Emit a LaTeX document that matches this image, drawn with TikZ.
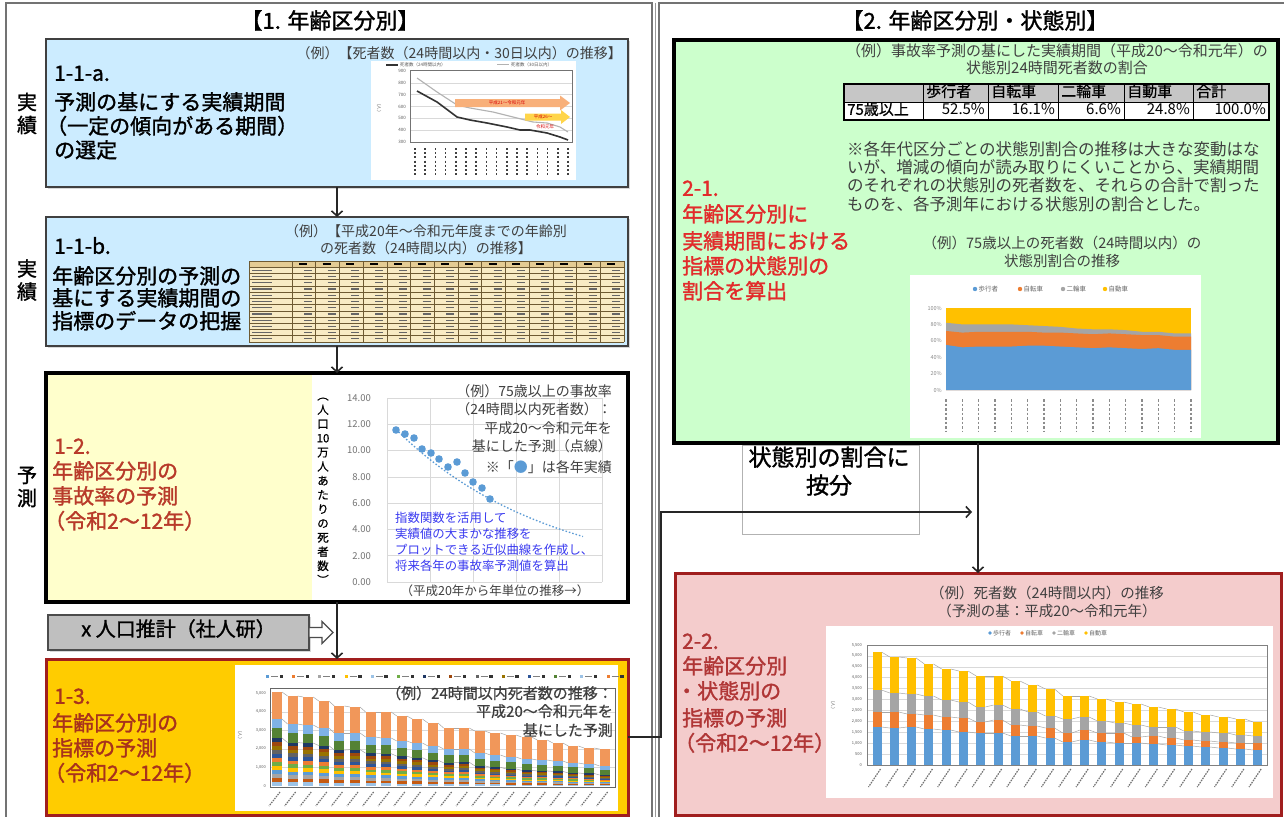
\documentclass[tikz,border=0pt]{standalone}
\usepackage{fontspec}
\setmainfont{Noto Sans CJK JP}
\newfontfamily\lblfont{Noto Sans CJK JP}[FakeBold=1.4]
\newfontfamily\medfont{Noto Sans CJK JP}[FakeBold=0.6]
\usetikzlibrary{arrows.meta,shadows}
\definecolor{lblue}{HTML}{CCECFF}
\definecolor{lyellow}{HTML}{FFFFCC}
\definecolor{gold}{HTML}{FFCC00}
\definecolor{lgreen}{HTML}{CCFFCC}
\definecolor{lpink}{HTML}{F4CCCC}
\definecolor{dred}{HTML}{A01E1E}
\definecolor{txtred}{HTML}{E22B2B}
\definecolor{brick}{HTML}{B83A2A}
\definecolor{brown2}{HTML}{A8321C}
\definecolor{pinkred}{HTML}{B03636}
\definecolor{capgray}{HTML}{3F3F3F}
\definecolor{ptblue}{HTML}{5B9BD5}
\definecolor{txtblue}{HTML}{3A3AF0}
\definecolor{corange}{HTML}{ED7D31}
\definecolor{cgray}{HTML}{A5A5A5}
\definecolor{cyellow}{HTML}{FFC000}
\definecolor{clblue}{HTML}{9DC3E6}
\definecolor{clblue2}{HTML}{7FB2E5}
\definecolor{cgreen}{HTML}{548235}
\definecolor{cgreen2}{HTML}{70AD47}
\definecolor{cnavy}{HTML}{1F3864}
\definecolor{cbrown}{HTML}{9E480E}
\definecolor{colive}{HTML}{997300}
\definecolor{cdgray}{HTML}{636363}
\definecolor{cblue2}{HTML}{2E5597}
\definecolor{cdorange}{HTML}{C55A11}
\definecolor{tabfill}{HTML}{F8EBC4}
\definecolor{tabhead}{HTML}{E4CC94}
\definecolor{tabline}{HTML}{6E5A32}
\definecolor{arrorange}{HTML}{F8B07A}
\definecolor{arryellow}{HTML}{FFD54A}
\begin{document}
\begin{tikzpicture}[x=1pt,y=-1pt,
  fs/.style={font=\fontsize{#1}{#1}\selectfont},
  bfs/.style={font=\lblfont\fontsize{#1}{#1}\selectfont},
  mfs/.style={font=\medfont\fontsize{#1}{#1}\selectfont},
  ln/.style={inner sep=0pt, text height=0.88em, text depth=0.12em},
  lbl/.style={ln, anchor=west, bfs=21},
  capt/.style={ln, fs=14, text=capgray},
  tinytxt/.style={inner sep=0pt, font=\fontsize{4.5}{5}\selectfont, text=black!65},
  boxbase/.style={rectangle, inner sep=0pt, outer sep=0pt},
  bluebox/.style={boxbase, fill=lblue, draw=black!75, line width=1.6pt, drop shadow={opacity=0.3, shadow xshift=2pt, shadow yshift=-2pt}},
  conn/.style={line width=1.6pt, draw=black!85},
  arr/.style={-{Straight Barb[length=5pt,width=11pt]}},
  vlab/.style={inner sep=0pt, align=center, font=\lblfont\fontsize{20}{23}\selectfont},
  gridln/.style={draw=black!15, line width=0.6pt},
  serie/.style={draw=black!35, line width=0.5pt},
]
\useasboundingbox (0,0) rectangle (1284,816);
\fill[white] (0,0) rectangle (1284,816);
% panel frames
\draw[black!55, line width=1.2pt] (6,830) -- (6,3) -- (652,3) -- (652,830);
\draw[black!40, line width=0.8pt] (655,3) -- (655,830);
\draw[black!55, line width=1.2pt] (659,830) -- (659,3) -- (1290,3);
\node[ln, bfs=22] (t1) at (330,25) {【1. 年齢区分別】};
\node[ln, bfs=22] (t2) at (975,25) {【2. 年齢区分別・状態別】};

% boxes
\node[bluebox, minimum width=582pt, minimum height=148pt] (b11a) at (337,113) {};
\node[bluebox, minimum width=582pt, minimum height=129pt] (b11b) at (337,281.5) {};
\node[boxbase, fill=lyellow, draw=black, line width=3.5pt, minimum width=582pt, minimum height=229pt] (b12) at (337,487.5) {};
\node[boxbase, fill=gray!50, draw=black!70, line width=1.5pt, minimum width=261pt, minimum height=35pt, drop shadow={opacity=0.3, shadow xshift=2pt, shadow yshift=-2pt}] (gbox) at (178.5,632.5) {};
\node[boxbase, fill=gold, draw=dred, line width=3pt, minimum width=582pt, minimum height=156pt] (b13) at (337,737) {};
\node[boxbase, fill=lgreen, draw=black, line width=3.5pt, minimum width=604pt, minimum height=403pt] (b21) at (976,241.5) {};
\node[boxbase, fill=lpink, draw=dred, line width=3pt, minimum width=606pt, minimum height=242pt] (b22) at (978,694) {};
\node[boxbase, draw=black!30, line width=0.8pt, fill=white, minimum width=177pt, minimum height=89pt] (lab) at (830.5,489.5) {};

% vertical side labels
\node[vlab] (v1) at (27,113.5) {実\\績};
\node[vlab] (v2) at (27,280) {実\\績};
\node[vlab] (v3) at (27,487) {予\\測};

% box labels
\foreach \s/\xx/\y [count=\i] in {1-1-a./54/77, 予測の基にする実績期間/54/106, （一定の傾向がある期間）/46/130, の選定/54/154}
  \node[lbl] (la\i) at (\xx,\y) {\s};
\foreach \s/\xx/\y [count=\i] in {1-1-b./54/250, 年齢区分別の予測の/52/280, 基にする実績期間の/52/302, 指標のデータの把握/52/325}
  \node[lbl] (lb\i) at (\xx,\y) {\s};
\foreach \s/\xx/\y [count=\i] in {1-2./54/450, 年齢区分別の/52/475, 事故率の予測/52/500, （令和2～12年）/44/525}
  \node[lbl, text=brick] (lc\i) at (\xx,\y) {\s};
\foreach \s/\xx/\y [count=\i] in {1-3./54/700, 年齢区分別の/52/727, 指標の予測/52/752, （令和2～12年）/44/777}
  \node[lbl, text=brown2] (ld\i) at (\xx,\y) {\s};
\foreach \s/\xx/\y [count=\i] in {2-1./682/192, 年齢区分別に/682/218, 実績期間における/682/245, 指標の状態別の/682/270, 割合を算出/682/295}
  \node[lbl, text=txtred] (le\i) at (\xx,\y) {\s};
\foreach \s/\xx/\y [count=\i] in {2-2./682/645, 年齢区分別/682/670, ・状態別の/676/695, 指標の予測/682/722, （令和2～12年）/674/747}
  \node[lbl, text=pinkred] (lf\i) at (\xx,\y) {\s};

% ---- chart 1-1-a
\node[capt, anchor=east] (c11a) at (622,55) {（例）【死者数（24時間以内・30日以内）の推移】};
\fill[white] (371,61) rectangle (576,180);
\foreach \y in {82.8,94.6,106.4,118.2,130} \draw[gridln] (410,\y) -- (572,\y);
\draw[black!55, line width=1pt] (410,70) rectangle (572,142);
\foreach \v [count=\i] in {900,800,700,600,500,400,300}
  \node[tinytxt, anchor=east] (ya\i) at (406,{71+(\i-1)*11.83}) {\v};
\node[tinytxt, rotate=-90] (yat) at (379,108) {（人）};
\draw[black!80, line width=1.2pt] (386,65) -- (398,65);
\node[tinytxt, anchor=west] (lg1) at (400,65) {死者数（24時間以内）};
\draw[black!30, line width=1pt] (497,65) -- (509,65);
\node[tinytxt, anchor=west] (lg2) at (511,65) {死者数（30日以内）};
\draw[black!30, line width=1.1pt] (417,78) -- (437,92) -- (457,105) -- (470,108) -- (493,112) -- (513,117) -- (533,122) -- (547,123) -- (560,127) -- (568,132);
\draw[black!80, line width=1.6pt] (417,91) -- (437,102) -- (457,117) -- (470,120) -- (487,123) -- (507,127) -- (520,130) -- (530,130) -- (547,133) -- (560,137) -- (568,140);
\fill[arrorange] (455,99) -- (560,99) -- (560,95.5) -- (570,103) -- (560,110.5) -- (560,107) -- (455,107) -- cycle;
\node[inner sep=0pt, font=\fontsize{4.5}{4.5}\selectfont, text=red!85!black] (ar1) at (507,103) {平成21～令和元年};
\fill[arryellow] (525,113.5) -- (561,113.5) -- (561,110) -- (570,117) -- (561,124) -- (561,120.5) -- (525,120.5) -- cycle;
\node[inner sep=0pt, font=\fontsize{4.5}{4.5}\selectfont, text=red!85!black] (ar2) at (543,117) {平成26～};
\node[inner sep=0pt, font=\fontsize{4.5}{4.5}\selectfont, text=red!85!black] (ar3) at (545,127) {令和元年};
\foreach \i in {0,...,15} \draw[black!75, line width=1.6pt, dash pattern=on 2pt off 2.2pt] ({415+\i*10.2},148) -- ({415+\i*10.2},176);

% ---- chart 1-1-b (table)
\node[capt] (c11b1) at (426,233) {（例）【平成20年～令和元年度までの年齢別};
\node[capt] (c11b2) at (426,250) {の死者数（24時間以内）の推移】};
\fill[tabfill] (249,261) rectangle (624,342);
\fill[tabhead] (249,261) rectangle (624,267.2);
\foreach \k in {0,...,13} \draw[tabline, line width=0.6pt] (249,{261+\k*6.23}) -- (624,{261+\k*6.23});
\draw[tabline, line width=0.6pt] (249,261) -- (249,342);
\foreach \k in {0,...,14} \draw[tabline, line width=0.6pt] ({292+\k*23.71},261) -- ({292+\k*23.71},342);
\foreach \c in {0,...,13} {
  \draw[black, line width=2pt] ({292+\c*23.71+7},264.1) -- ({292+\c*23.71+15},264.1);
  \foreach \r in {1,...,12}
    \draw[black!60, line width=1.2pt] ({292+\c*23.71+12},{261+\r*6.23+3.1}) -- ({292+\c*23.71+20},{261+\r*6.23+3.1});
}
\foreach \r in {1,...,12} \draw[black!60, line width=1.2pt] (252,{261+\r*6.23+3.1}) -- (272,{261+\r*6.23+3.1});

% ---- chart 1-2
\fill[white] (312,375) rectangle (626.2,600.2);
\foreach \k in {0,...,7} \draw[gridln] (387,{398+\k*26.29}) -- (602,{398+\k*26.29});
\foreach \k in {0,...,5} \draw[gridln] ({387+\k*43},398) -- ({387+\k*43},582);
\foreach \v [count=\i] in {14.00,12.00,10.00,8.00,6.00,4.00,2.00,0.00}
  \node[inner sep=0pt, anchor=east, font=\fontsize{9.5}{9.5}\selectfont, text=black!55] (yt\i) at (371,{398+(\i-1)*26.29}) {\v};
\node[inner sep=0pt, align=center, font=\medfont\fontsize{11.5}{14.2}\selectfont] (yl) at (323,491) {︵\\人\\口\\10\\万\\人\\あ\\た\\り\\の\\死\\者\\数\\︶};
\draw[ptblue, line width=1.3pt, dash pattern=on 1.5pt off 2pt] plot[domain=396:583, samples=40] (\x, {582-13.15*11.6*exp(-0.00647*(\x-396))});
\foreach \px/\py [count=\i] in {396/430, 405/434, 414/438, 422/449, 431/453, 439/459, 448/467, 457/462, 465/473, 473/482, 482/488, 490/499}
  \fill[ptblue] (\px,\py) circle[radius=3.8pt];
\foreach \s/\y [count=\i] in {（例）75歳以上の事故率/393, （24時間以内死者数）：/411, 平成20～令和元年を/430, 基にした予測（点線）/448, ※「{\color{ptblue}●}」は各年実績/469}
  \node[capt, anchor=east] (r12\i) at (612,\y) {\s};
\foreach \s/\y [count=\i] in {指数関数を活用して/519, 実績値の大まかな推移を/535, プロットできる近似曲線を作成し、/551, 将来各年の事故率予測値を算出/567}
  \node[ln, anchor=west, fs=12.4, text=txtblue] (bl\i) at (395,\y) {\s};
\node[ln, fs=12.5, text=capgray] (xl12) at (495,592) {（平成20年から年単位の推移→）};

% ---- chart 1-3
\fill[white] (235,665) rectangle (618,811);
\foreach \c [count=\i] in {ptblue,corange,cgray,cyellow,clblue,cgreen2,cnavy,cbrown,cdgray,colive,cblue2,cgreen,clblue,corange} {
  \pgfmathsetmacro\lx{266+(\i-1)*26.2}
  \fill[\c] (\lx,674.5) rectangle ({\lx+3},677.5);
  \draw[black!50, line width=1pt] ({\lx+5},676) -- ({\lx+12},676);
  \fill[black!80] ({\lx+13.5},674.5) rectangle ({\lx+17},677.5);
}
\foreach \y in {712,730,749,767} \draw[gridln] (270,\y) -- (615,\y);
\foreach \v [count=\i] in {{5,000},{4,000},{3,000},{2,000},{1,000},0}
  \node[tinytxt, anchor=east, font=\fontsize{4}{4}\selectfont] (yb\i) at (266,{693+(\i-1)*18.6}) {\v};
\node[tinytxt, rotate=-90] (ybt) at (240,735) {（人）};
\foreach \vt/\vo [count=\i] in {692/719,696/724,697/725,701/728,706/733,707/733,712/737,712/738,716/741,719/743,723/746,728/749,728/749,731/753,733/755,735/757,737/759,740/760,743/761,746/763,748/764,749/766}{
  \pgfmathsetmacro\bxl{277+(\i-1)*15.6-5}
  \pgfmathsetmacro\bxr{277+(\i-1)*15.6+5}
  \pgfmathsetmacro\blb{\vo+9-5*(\i-1)/21}
  \pgfmathsetmacro\bgb{\blb+10-5*(\i-1)/21}
  \pgfmathsetmacro\bhh{(786-\bgb)/12}
  \fill[corange!80] (\bxl,\vt) rectangle (\bxr,\vo);
  \fill[clblue2] (\bxl,\vo) rectangle (\bxr,\blb);
  \fill[cgreen] (\bxl,\blb) rectangle (\bxr,\bgb);
  \foreach \c [count=\k] in {cnavy,cbrown,colive,cdgray,cblue2,corange,cgreen2,cyellow,ptblue,cgray,cdorange,clblue}
    \fill[\c] (\bxl,{\bgb+(\k-1)*\bhh}) rectangle (\bxr,{\bgb+\k*\bhh});
  \coordinate (rtl\i) at (\bxl,\vt); \coordinate (rtr\i) at (\bxr,\vt);
  \coordinate (rol\i) at (\bxl,\vo); \coordinate (ror\i) at (\bxr,\vo);
  \coordinate (rgl\i) at (\bxl,\bgb); \coordinate (rgr\i) at (\bxr,\bgb);
  \draw[black!55, line width=1.2pt, dash pattern=on 1.5pt off 1pt] ({\bxr-2},792) -- ({\bxl-3},806);
}
\foreach \i in {1,...,21}{\pgfmathtruncatemacro\j{\i+1}
  \draw[serie] (rtr\i) -- (rtl\j); \draw[serie] (ror\i) -- (rol\j); \draw[serie] (rgr\i) -- (rgl\j);}
\draw[black!60, line width=0.8pt] (270,688) rectangle (615,787);
\foreach \s/\y [count=\i] in {（例）24時間以内死者数の推移：/695, 平成20～令和元年を/713, 基にした予測/732}
  \node[ln, mfs=15, text=capgray, anchor=east] (r13\i) at (613,\y) {\s};

% ---- box 2-1 content
\node[capt, fs=15] (c21a) at (1057,53) {（例）事故率予測の基にした実績期間（平成20～令和元年）の};
\node[capt, fs=15] (c21b) at (1057,70) {状態別24時間死者数の割合};
\fill[gray!45] (844,84) rectangle (1269,102);
\fill[white] (844,102) rectangle (1269,120);
\draw[black, line width=1.2pt] (844,84) rectangle (1269,120);
\draw[black, line width=1pt] (844,102) -- (1269,102);
\foreach \xx in {923,988,1058,1124,1193} \draw[black, line width=1pt] (\xx,84) -- (\xx,120);
\foreach \xl/\xr/\colh/\cold [count=\i] in {923/988/歩行者/52.5\%, 988/1058/自転車/16.1\%, 1058/1124/二輪車/6.6\%, 1124/1193/自動車/24.8\%, 1193/1269/合計/100.0\%}{
  \node[ln, anchor=west, mfs=15] (th\i) at ({\xl+3},93) {\colh};
  \node[ln, anchor=east, fs=15] (td\i) at ({\xr-3},111) {\cold};
}
\node[ln, anchor=west, mfs=15] (td0) at (847,111) {75歳以上};
\foreach \s/\y [count=\i] in {※各年代区分ごとの状態別割合の推移は大きな変動はな/152, いが、増減の傾向が読み取りにくいことから、実績期間/170, のそれぞれの状態別の死者数を、それらの合計で割った/188, ものを、各予測年における状態別の割合とした。/207}
  \node[ln, anchor=west, fs=16.5, text=capgray] (nt\i) at (847,\y) {\s};
\node[capt, fs=14.5] (c21c) at (1062,245) {（例）75歳以上の死者数（24時間以内）の};
\node[capt, fs=14.5] (c21d) at (1062,263) {状態別割合の推移};
% area chart
\fill[white] (910,275) rectangle (1201,438);
\foreach \c/\s/\xx [count=\i] in {ptblue/歩行者/975, corange/自転車/1020, cgray/二輪車/1063, cyellow/自動車/1105}{
  \fill[\c] (\xx,289) circle[radius=2.2pt];
  \node[inner sep=0pt, anchor=west, font=\fontsize{6.5}{6.5}\selectfont, text=black!60] (lg21\i) at ({\xx+3.5},289) {\s};
}
\foreach \v [count=\i] in {100\%,80\%,60\%,40\%,20\%,0\%}
  \node[tinytxt, anchor=east, font=\fontsize{5.5}{5.5}\selectfont, text=black!45] (yc\i) at (942,{308+(\i-1)*16.4}) {\v};
\begin{scope}[shift={(946,390)}, x=16.333pt, y=0.82pt]
  \fill[cyellow] (0,0) rectangle (15,100);
  \fill[cgray] (0,0) -- plot coordinates {(0,82) (1,80) (2,80) (3,80) (4,80) (5,79) (6,78) (7,77) (8,75) (9,74) (10,74) (11,73) (12,71) (13,71) (14,69) (15,69)} -- (15,0) -- cycle;
  \fill[corange] (0,0) -- plot coordinates {(0,72) (1,70) (2,71) (3,71) (4,71) (5,71) (6,70) (7,70) (8,69) (9,68) (10,69) (11,68) (12,67) (13,67) (14,65) (15,65)} -- (15,0) -- cycle;
  \fill[ptblue] (0,0) -- plot coordinates {(0,55) (1,52) (2,53) (3,53) (4,53) (5,54) (6,54) (7,53) (8,52) (9,51) (10,52) (11,51) (12,50) (13,51) (14,49) (15,49)} -- (15,0) -- cycle;
\end{scope}
\foreach \i in {0,...,15} \draw[black!45, line width=1.4pt, dash pattern=on 2.5pt off 2pt] ({946+\i*16.333},399) -- ({946+\i*16.333},432);

% ---- box 2-2 content
\node[capt, fs=14.5] (c22a) at (1047,595) {（例）死者数（24時間以内）の推移};
\node[capt, fs=14.5] (c22b) at (1047,613) {（予測の基：平成20～令和元年）};
\fill[white] (826,626) rectangle (1273,798);
\foreach \c/\s/\xx [count=\i] in {ptblue/歩行者/990, corange/自転車/1022, cgray/二輪車/1054, cyellow/自動車/1086}{
  \fill[\c] (\xx,633) circle[radius=1.8pt];
  \node[inner sep=0pt, anchor=west, font=\fontsize{6}{6}\selectfont, text=black!60] (lg22\i) at ({\xx+3},633) {\s};
}
\foreach \k in {0,...,11} \draw[gridln] (867,{765-\k*10.91}) -- (1267,{765-\k*10.91});
\foreach \v [count=\i] in {0,500,{1,000},{1,500},{2,000},{2,500},{3,000},{3,500},{4,000},{4,500},{5,000},{5,500}}
  \node[tinytxt, anchor=east, font=\fontsize{4}{4}\selectfont] (yd\i) at (862,{765-(\i-1)*10.91}) {\v};
\node[tinytxt, rotate=-90] (ydt) at (833,705) {（人）};
\foreach \vt/\vg/\vo/\vb [count=\i] in {652/690/712/727,657/693/712/728,658/694/714/727,664/696/715/729,669/700/717/730,671/702/718/732,676/707/722/733,676/705/720/733,681/709/725/736,685/712/726/736,689/716/728/738,696/719/733/742,696/717/730/740,699/721/733/742,702/723/733/743,704/725/737/743,707/727/736/744,709/727/738/745,712/731/740/746,715/732/741/747,717/733/742/748,719/735/743/749,722/736/743/750}{
  \pgfmathsetmacro\bxl{877+(\i-1)*17.3-4.5}
  \pgfmathsetmacro\bxr{877+(\i-1)*17.3+4.5}
  \fill[cyellow] (\bxl,\vt) rectangle (\bxr,\vg);
  \fill[cgray] (\bxl,\vg) rectangle (\bxr,\vo);
  \fill[corange] (\bxl,\vo) rectangle (\bxr,\vb);
  \fill[ptblue] (\bxl,\vb) rectangle (\bxr,765);
  \coordinate (qtl\i) at (\bxl,\vt); \coordinate (qtr\i) at (\bxr,\vt);
  \coordinate (qgl\i) at (\bxl,\vg); \coordinate (qgr\i) at (\bxr,\vg);
  \coordinate (qol\i) at (\bxl,\vo); \coordinate (qor\i) at (\bxr,\vo);
  \coordinate (qbl\i) at (\bxl,\vb); \coordinate (qbr\i) at (\bxr,\vb);
  \draw[black!55, line width=1.2pt, dash pattern=on 1.6pt off 1pt] ({\bxr-1},769) -- ({\bxl-4},787);
}
\foreach \i in {1,...,22}{\pgfmathtruncatemacro\j{\i+1}
  \draw[serie] (qtr\i) -- (qtl\j); \draw[serie] (qgr\i) -- (qgl\j);
  \draw[serie] (qor\i) -- (qol\j); \draw[serie] (qbr\i) -- (qbl\j);}
\draw[black!50, line width=0.8pt] (867,645) rectangle (1267,765);

% ---- middle label and gray box text
\node[ln, bfs=23] (lab1) at (829,462) {状態別の割合に};
\node[ln, bfs=23] (lab2) at (829,490) {按分};
\node[ln, bfs=20] (gtxt) at (gbox.center) {x 人口推計（社人研）};
\draw[black!70, line width=1.2pt, fill=white] (gbox.east) ++(0,-5) -- ++(13,0) -- ++(0,-6) -- ++(11,11) -- ++(-11,11) -- ++(0,-6) -- ++(-13,0) -- cycle;

% ---- connectors
\coordinate (bend) at (661,512);
\coordinate (tip) at (972,512);
\draw[conn,arr] (b11a.south) -- (b11b.north);
\draw[conn,arr] (b11b.south) -- (b12.north);
\draw[conn,arr] (b12.south) -- (b13.north);
\draw[conn,arr] (b13.east) -| (bend) -- (tip);
\draw[conn,arr] (b22.north |- b21.south) -- (b22.north);
\end{tikzpicture}
\end{document}
